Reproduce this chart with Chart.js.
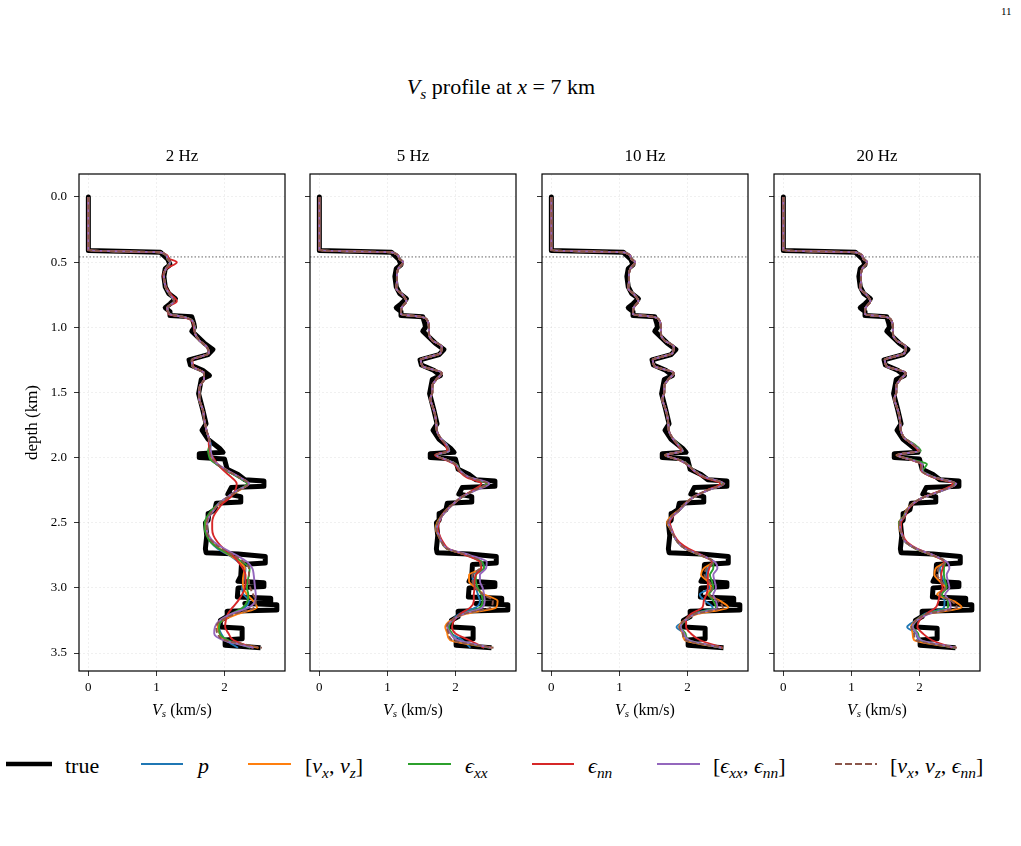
<!DOCTYPE html>
<html>
<head>
<meta charset="utf-8">
<title>Vs profile at x = 7 km</title>
<script src="https://cdn.jsdelivr.net/npm/chart.js@4.4.1/dist/chart.umd.min.js"></script>
<style>
  html, body { margin: 0; padding: 0; background: #fff; }
  #fig { position: relative; width: 1021px; height: 846px; overflow: hidden; font-family: "Liberation Serif", "DejaVu Serif", serif; color: #000; }
  #fig canvas { position: absolute; }
  .txt { position: absolute; white-space: nowrap; line-height: 1; }
  sub { font-size: 0.7em; vertical-align: -0.3em; line-height: 0; }
</style>
</head>
<body>
<div id="fig">
  <div class="txt" style="left:1001px; top:6px; font-size:11px;">11</div>
  <div class="txt" style="left:0; width:1002px; top:76px; font-size:22px; text-align:center;"><i>V</i><sub><i>s</i></sub> profile at <i>x</i> = 7 km</div>

  <svg style="position:absolute; left:0; top:754px;" width="1021" height="24">
    <line x1="6" y1="10" x2="52" y2="10" stroke="#000" stroke-width="4.5"/>
    <line x1="141" y1="10" x2="183" y2="10" stroke="#1f77b4" stroke-width="2"/>
    <line x1="248" y1="10" x2="291" y2="10" stroke="#ff7f0e" stroke-width="2"/>
    <line x1="408" y1="10" x2="451" y2="10" stroke="#2ca02c" stroke-width="2"/>
    <line x1="532" y1="10" x2="574" y2="10" stroke="#d62728" stroke-width="2"/>
    <line x1="657" y1="10" x2="700" y2="10" stroke="#9467bd" stroke-width="2"/>
    <line x1="835" y1="10" x2="877" y2="10" stroke="#8c564b" stroke-width="2" stroke-dasharray="7 3"/>
  </svg>
  <div class="txt" style="left:65px; top:755px; font-size:22px;">true</div>
  <div class="txt" style="left:198px; top:755px; font-size:22px;"><i>p</i></div>
  <div class="txt" style="left:305px; top:755px; font-size:22px;">[<i>v</i><sub><i>x</i></sub>, <i>v</i><sub><i>z</i></sub>]</div>
  <div class="txt" style="left:465px; top:755px; font-size:22px;"><i>ϵ</i><sub><i>xx</i></sub></div>
  <div class="txt" style="left:588px; top:755px; font-size:22px;"><i>ϵ</i><sub><i>nn</i></sub></div>
  <div class="txt" style="left:713px; top:755px; font-size:22px;">[<i>ϵ</i><sub><i>xx</i></sub>, <i>ϵ</i><sub><i>nn</i></sub>]</div>
  <div class="txt" style="left:890px; top:755px; font-size:22px;">[<i>v</i><sub><i>x</i></sub>, <i>v</i><sub><i>z</i></sub>, <i>ϵ</i><sub><i>nn</i></sub>]</div>
</div>

<script>
const panelTitles = ["2 Hz", "5 Hz", "10 Hz", "20 Hz"];
const seriesLabels = ["p", "[vx, vz]", "εxx", "εnn", "[εxx, εnn]", "[vx, vz, εnn]"];
const seriesColors = ["#1f77b4", "#ff7f0e", "#2ca02c", "#d62728", "#9467bd", "#8c564b"];
const xTicks = [0, 1, 2];
const yTicks = [0, 0.5, 1, 1.5, 2, 2.5, 3, 3.5];
const waterBottom = 0.46;

// true Vs model (km/s) vs depth (km)
const trueDepth = [0, 0.41, 0.425, 0.48, 0.52, 0.55, 0.61, 0.69, 0.74, 0.78, 0.82, 0.85, 0.88, 0.91, 0.92, 0.97, 1.0, 1.03, 1.07, 1.12,
  1.17, 1.21, 1.25, 1.29, 1.33, 1.37, 1.40, 1.51, 1.63, 1.74, 1.79, 1.86, 1.93, 1.96, 1.97, 2.0, 2.01, 2.09, 2.13, 2.17,
  2.18, 2.22, 2.23, 2.28, 2.30, 2.34, 2.35, 2.40, 2.43, 2.48, 2.5, 2.6, 2.7, 2.73, 2.74, 2.76, 2.81, 2.82, 2.91, 2.95,
  2.96, 2.99, 3.0, 3.07, 3.08, 3.11, 3.12, 3.13, 3.17, 3.18, 3.22, 3.25, 3.30, 3.31, 3.39, 3.40, 3.44, 3.46];
const trueVs = [0, 0, 1.06, 1.17, 1.2, 1.13, 1.11, 1.13, 1.18, 1.28, 1.2, 1.13, 1.2, 1.2, 1.52, 1.55, 1.56, 1.52, 1.6, 1.7,
  1.83, 1.76, 1.48, 1.5, 1.68, 1.78, 1.66, 1.62, 1.68, 1.73, 1.67, 1.76, 1.93, 1.98, 1.63, 1.63, 2.0, 2.04, 2.2, 2.3,
  2.58, 2.58, 2.1, 2.05, 2.24, 2.24, 1.88, 1.86, 1.77, 1.76, 1.72, 1.74, 1.72, 1.73, 2.2, 2.6, 2.6, 2.25, 2.24, 2.2,
  2.58, 2.58, 2.2, 2.19, 2.68, 2.68, 2.3, 2.77, 2.77, 2.04, 2.04, 1.94, 1.94, 2.26, 2.26, 2.01, 2.01, 2.53];

// inverted profiles: shallow part (curves overlap) and deep part per input
const upperDepth = [0, 0.41, 0.425, 0.47, 0.5, 0.55, 0.6, 0.65, 0.7, 0.75, 0.8, 0.85, 0.9, 0.92, 0.95, 1.0, 1.05, 1.1, 1.15, 1.2,
  1.25, 1.3, 1.35, 1.4, 1.45, 1.5, 1.55, 1.6, 1.65, 1.7, 1.75, 1.8, 1.85];
const lowerDepth = [1.9, 1.95, 1.98, 2.02, 2.05, 2.1, 2.15, 2.2, 2.25, 2.3, 2.35, 2.4, 2.45, 2.5, 2.55, 2.6, 2.65, 2.7, 2.75, 2.8,
  2.85, 2.9, 2.95, 3.0, 3.05, 3.1, 3.15, 3.2, 3.25, 3.3, 3.35, 3.4, 3.46];

const upper2 = [0, 0, 1.06, 1.16, 1.2, 1.14, 1.11, 1.12, 1.14, 1.2, 1.26, 1.16, 1.2, 1.4, 1.53, 1.56, 1.57, 1.63, 1.74, 1.77,
  1.52, 1.53, 1.7, 1.7, 1.64, 1.63, 1.63, 1.66, 1.69, 1.7, 1.72, 1.74, 1.77];
const upper2enn = [0, 0, 1.06, 1.18, 1.3, 1.15, 1.1, 1.12, 1.15, 1.22, 1.3, 1.16, 1.18, 1.38, 1.52, 1.55, 1.57, 1.63, 1.74, 1.77,
  1.53, 1.54, 1.7, 1.7, 1.64, 1.63, 1.63, 1.66, 1.69, 1.7, 1.72, 1.74, 1.77];
const upperHF = [0, 0, 1.07, 1.17, 1.23, 1.16, 1.14, 1.14, 1.13, 1.22, 1.28, 1.21, 1.2, 1.5, 1.59, 1.61, 1.61, 1.66, 1.8, 1.78,
  1.49, 1.52, 1.8, 1.72, 1.66, 1.66, 1.63, 1.66, 1.69, 1.71, 1.72, 1.73, 1.78];

// 2 Hz
const p2 = [1.80, 1.78, 1.79, 1.82, 1.88, 2.03, 2.20, 2.34, 2.20, 2.06, 1.93, 1.84, 1.77, 1.73, 1.73, 1.75, 1.80, 1.90, 2.07, 2.20, 2.31, 2.30, 2.28, 2.26, 2.28, 2.36, 2.30, 2.12, 1.96, 1.92, 1.95, 2.02, 2.20];
const vxvz2 = [1.79, 1.77, 1.78, 1.82, 1.89, 2.04, 2.21, 2.35, 2.22, 2.07, 1.94, 1.84, 1.77, 1.73, 1.73, 1.76, 1.82, 1.93, 2.08, 2.22, 2.30, 2.28, 2.27, 2.28, 2.33, 2.42, 2.48, 2.20, 1.97, 1.90, 1.93, 2.00, 2.50];
const exx2 = [1.78, 1.76, 1.77, 1.80, 1.88, 2.03, 2.20, 2.33, 2.20, 2.06, 1.92, 1.82, 1.75, 1.71, 1.71, 1.74, 1.80, 1.92, 2.10, 2.26, 2.37, 2.36, 2.34, 2.33, 2.35, 2.34, 2.27, 2.10, 1.96, 1.92, 1.93, 2.05, 2.38];
const enn2 = [1.77, 1.79, 1.81, 1.86, 1.90, 1.99, 2.10, 2.18, 2.16, 2.10, 1.98, 1.90, 1.84, 1.82, 1.82, 1.84, 1.90, 1.99, 2.12, 2.20, 2.27, 2.31, 2.31, 2.30, 2.26, 2.20, 2.12, 2.05, 2.02, 2.01, 2.06, 2.13, 2.42];
const exxenn2 = [1.79, 1.80, 1.81, 1.84, 1.90, 2.05, 2.22, 2.36, 2.20, 2.05, 1.92, 1.85, 1.78, 1.75, 1.74, 1.77, 1.85, 2.00, 2.18, 2.33, 2.41, 2.43, 2.44, 2.45, 2.46, 2.45, 2.36, 2.10, 1.93, 1.86, 1.85, 1.98, 2.43];
const vxvzenn2 = [1.79, 1.78, 1.79, 1.83, 1.89, 2.04, 2.21, 2.35, 2.21, 2.06, 1.93, 1.84, 1.77, 1.74, 1.74, 1.76, 1.83, 1.96, 2.14, 2.28, 2.36, 2.36, 2.36, 2.38, 2.42, 2.46, 2.44, 2.16, 1.95, 1.88, 1.90, 2.00, 2.55];

// 5 Hz
const p5 = [1.87, 1.90, 1.72, 1.88, 2.00, 2.06, 2.18, 2.45, 2.28, 2.10, 1.98, 1.88, 1.80, 1.75, 1.72, 1.76, 1.80, 1.88, 2.18, 2.38, 2.42, 2.25, 2.26, 2.30, 2.33, 2.36, 2.30, 2.06, 1.95, 1.90, 1.94, 2.10, 2.22];
const vxvz5 = [1.86, 1.90, 1.71, 1.88, 2.00, 2.06, 2.19, 2.46, 2.28, 2.10, 1.98, 1.87, 1.79, 1.73, 1.71, 1.75, 1.80, 1.88, 2.17, 2.36, 2.38, 2.20, 2.20, 2.30, 2.42, 2.62, 2.60, 2.15, 1.93, 1.85, 1.88, 1.92, 2.53];
const exx5 = [1.87, 1.91, 1.72, 1.88, 2.01, 2.07, 2.19, 2.46, 2.29, 2.11, 1.98, 1.88, 1.80, 1.74, 1.72, 1.76, 1.80, 1.88, 2.19, 2.39, 2.42, 2.30, 2.30, 2.33, 2.38, 2.40, 2.36, 2.10, 1.96, 1.90, 1.95, 2.02, 2.50];
const enn5 = [1.85, 1.88, 1.70, 1.86, 1.98, 2.05, 2.16, 2.38, 2.26, 2.10, 1.98, 1.88, 1.80, 1.76, 1.74, 1.77, 1.82, 1.90, 2.16, 2.36, 2.38, 2.30, 2.28, 2.28, 2.27, 2.27, 2.22, 2.07, 1.98, 1.95, 2.00, 2.20, 2.42];
const exxenn5 = [1.87, 1.91, 1.72, 1.88, 2.00, 2.07, 2.20, 2.50, 2.30, 2.10, 1.98, 1.88, 1.80, 1.75, 1.72, 1.76, 1.80, 1.89, 2.22, 2.46, 2.45, 2.36, 2.36, 2.40, 2.42, 2.43, 2.40, 2.12, 1.95, 1.88, 1.93, 2.03, 2.52];
const vxvzenn5 = [1.86, 1.90, 1.71, 1.88, 2.00, 2.06, 2.19, 2.47, 2.28, 2.10, 1.98, 1.87, 1.79, 1.74, 1.72, 1.75, 1.80, 1.88, 2.18, 2.37, 2.36, 2.25, 2.25, 2.30, 2.40, 2.55, 2.52, 2.12, 1.94, 1.87, 1.90, 1.95, 2.56];

// 10 Hz
const p10 = [1.86, 1.93, 1.68, 1.89, 1.99, 2.10, 2.25, 2.52, 2.30, 2.10, 1.98, 1.89, 1.78, 1.72, 1.76, 1.80, 1.86, 1.97, 2.20, 2.38, 2.30, 2.28, 2.30, 2.33, 2.18, 2.26, 2.37, 2.10, 1.98, 1.84, 1.95, 2.00, 2.50];
const vxvz10 = [1.86, 1.93, 1.67, 1.89, 1.99, 2.10, 2.25, 2.53, 2.30, 2.10, 1.97, 1.88, 1.76, 1.70, 1.75, 1.80, 1.86, 1.97, 2.19, 2.37, 2.24, 2.20, 2.30, 2.35, 2.30, 2.48, 2.60, 2.15, 1.95, 1.88, 1.93, 1.96, 2.52];
const exx10 = [1.87, 1.93, 1.68, 1.89, 2.00, 2.10, 2.25, 2.52, 2.30, 2.10, 1.98, 1.89, 1.78, 1.72, 1.76, 1.80, 1.86, 1.97, 2.20, 2.38, 2.38, 2.33, 2.36, 2.38, 2.32, 2.38, 2.42, 2.10, 1.97, 1.90, 1.97, 2.02, 2.50];
const enn10 = [1.85, 1.91, 1.70, 1.88, 1.99, 2.09, 2.23, 2.48, 2.29, 2.10, 1.98, 1.89, 1.79, 1.74, 1.77, 1.81, 1.88, 2.02, 2.22, 2.36, 2.32, 2.30, 2.30, 2.30, 2.28, 2.24, 2.22, 2.05, 1.98, 1.98, 2.05, 2.18, 2.52];
const exxenn10 = [1.86, 1.93, 1.68, 1.89, 1.99, 2.10, 2.26, 2.54, 2.31, 2.10, 1.98, 1.89, 1.78, 1.72, 1.76, 1.80, 1.86, 1.97, 2.21, 2.40, 2.44, 2.38, 2.40, 2.42, 2.38, 2.42, 2.44, 2.12, 1.96, 1.90, 1.95, 2.02, 2.50];
const vxvzenn10 = [1.86, 1.93, 1.67, 1.89, 1.99, 2.10, 2.25, 2.53, 2.30, 2.10, 1.97, 1.88, 1.77, 1.71, 1.75, 1.80, 1.86, 1.97, 2.20, 2.38, 2.28, 2.25, 2.32, 2.36, 2.33, 2.45, 2.52, 2.12, 1.96, 1.88, 1.93, 1.97, 2.52];

// 20 Hz
const p20 = [1.91, 2.00, 1.67, 1.90, 2.03, 2.03, 2.20, 2.52, 2.35, 2.08, 1.91, 1.82, 1.78, 1.71, 1.72, 1.75, 1.80, 1.95, 2.20, 2.38, 2.30, 2.32, 2.36, 2.38, 2.30, 2.37, 2.36, 2.08, 1.95, 1.82, 1.95, 2.00, 2.52];
const vxvz20 = [1.90, 1.99, 1.66, 1.90, 2.04, 2.03, 2.20, 2.53, 2.35, 2.08, 1.90, 1.81, 1.77, 1.70, 1.71, 1.75, 1.80, 1.95, 2.19, 2.37, 2.24, 2.22, 2.30, 2.38, 2.26, 2.50, 2.62, 2.12, 1.95, 1.88, 1.90, 1.92, 2.54];
const exx20 = [1.93, 2.02, 1.68, 1.92, 2.11, 2.05, 2.21, 2.52, 2.35, 2.08, 1.91, 1.82, 1.77, 1.70, 1.72, 1.75, 1.80, 1.95, 2.20, 2.38, 2.36, 2.36, 2.38, 2.40, 2.33, 2.42, 2.42, 2.10, 1.96, 1.90, 1.98, 2.02, 2.52];
const enn20 = [1.90, 1.98, 1.69, 1.89, 2.02, 2.03, 2.19, 2.49, 2.33, 2.08, 1.92, 1.83, 1.79, 1.73, 1.73, 1.76, 1.82, 1.97, 2.21, 2.36, 2.34, 2.32, 2.32, 2.34, 2.30, 2.28, 2.24, 2.10, 2.00, 1.97, 2.05, 2.18, 2.48];
const exxenn20 = [1.91, 2.00, 1.67, 1.90, 2.04, 2.04, 2.21, 2.54, 2.36, 2.08, 1.91, 1.82, 1.78, 1.71, 1.72, 1.75, 1.80, 1.96, 2.21, 2.40, 2.44, 2.40, 2.42, 2.44, 2.38, 2.44, 2.46, 2.14, 1.96, 1.90, 1.96, 2.02, 2.54];
const vxvzenn20 = [1.91, 2.00, 1.67, 1.90, 2.03, 2.03, 2.20, 2.53, 2.35, 2.08, 1.91, 1.82, 1.78, 1.71, 1.72, 1.75, 1.80, 1.95, 2.20, 2.38, 2.28, 2.26, 2.32, 2.38, 2.30, 2.47, 2.55, 2.12, 1.95, 1.88, 1.92, 1.95, 2.55];

const panelSeries = [
  { upper: [upper2, upper2, upper2, upper2enn, upper2, upper2], lower: [p2, vxvz2, exx2, enn2, exxenn2, vxvzenn2] },
  { upper: [upperHF, upperHF, upperHF, upperHF, upperHF, upperHF], lower: [p5, vxvz5, exx5, enn5, exxenn5, vxvzenn5] },
  { upper: [upperHF, upperHF, upperHF, upperHF, upperHF, upperHF], lower: [p10, vxvz10, exx10, enn10, exxenn10, vxvzenn10] },
  { upper: [upperHF, upperHF, upperHF, upperHF, upperHF, upperHF], lower: [p20, vxvz20, exx20, enn20, exxenn20, vxvzenn20] }
];

const invDepth = upperDepth.concat(lowerDepth);
const toPoints = (depths, vs) => vs.map((v, i) => ({ x: v, y: depths[i] }));

// layout of the four axes on the page
const frameLefts = [79, 310, 542, 774];
const frameW = 206;
const frameTop = 174;
const frameBottom = 671;
const canvasTop = 146;

Chart.defaults.font.family = '"Liberation Serif", "DejaVu Serif", serif';
Chart.defaults.color = "#000";

const framePlugin = {
  id: "frame",
  afterDraw(chart) {
    const { ctx, chartArea: a } = chart;
    ctx.save();
    ctx.strokeStyle = "#000";
    ctx.lineWidth = 1.2;
    ctx.strokeRect(a.left, a.top, a.right - a.left, a.bottom - a.top);
    ctx.restore();
  }
};

const waterPlugin = {
  id: "water",
  beforeDatasetsDraw(chart) {
    const { ctx, chartArea: a } = chart;
    const y = chart.scales.y.getPixelForValue(waterBottom);
    ctx.save();
    ctx.strokeStyle = "#666";
    ctx.lineWidth = 1;
    ctx.setLineDash([1.5, 2]);
    ctx.beginPath();
    ctx.moveTo(a.left, y);
    ctx.lineTo(a.right, y);
    ctx.stroke();
    ctx.restore();
  }
};

// x label with italic V and subscript s
const xTitlePlugin = {
  id: "xTitle",
  afterDraw(chart) {
    const { ctx, chartArea: a } = chart;
    const cx = (a.left + a.right) / 2;
    const y = a.bottom + 40;
    const fam = '"Liberation Serif", serif';
    ctx.save();
    ctx.fillStyle = "#000";
    ctx.textBaseline = "middle";
    ctx.textAlign = "left";
    ctx.font = "italic 16px " + fam;
    const wV = ctx.measureText("V").width;
    ctx.font = "italic 11px " + fam;
    const wS = ctx.measureText("s").width;
    ctx.font = "16px " + fam;
    const wR = ctx.measureText(" (km/s)").width;
    let x = cx - (wV + wS + wR) / 2;
    ctx.font = "italic 16px " + fam;
    ctx.fillText("V", x, y);
    x += wV;
    ctx.font = "italic 11px " + fam;
    ctx.fillText("s", x, y + 3);
    x += wS;
    ctx.font = "16px " + fam;
    ctx.fillText(" (km/s)", x, y);
    ctx.restore();
  }
};

const fig = document.getElementById("fig");

panelTitles.forEach((title, i) => {
  const padL = i === 0 ? 62 : 12;
  const padR = 10;
  const padB = 52;
  const cv = document.createElement("canvas");
  cv.width = padL + frameW + padR;
  cv.height = frameBottom + padB - canvasTop;
  cv.style.left = (frameLefts[i] - padL) + "px";
  cv.style.top = canvasTop + "px";
  fig.appendChild(cv);

  const datasets = [{
    label: "true",
    data: toPoints(trueDepth, trueVs),
    borderColor: "#000",
    borderWidth: 5,
    borderJoinStyle: "round",
    tension: 0,
    order: 10
  }];
  seriesLabels.forEach((lab, k) => {
    datasets.push({
      label: lab,
      data: toPoints(invDepth, panelSeries[i].upper[k].concat(panelSeries[i].lower[k])),
      borderColor: seriesColors[k],
      borderWidth: 1.9,
      borderDash: k === 5 ? [5, 2.5] : [],
      borderJoinStyle: "round",
      cubicInterpolationMode: "monotone",
      order: 6 - k
    });
  });

  new Chart(cv, {
    type: "line",
    data: { datasets },
    options: {
      indexAxis: "y",
      responsive: false,
      animation: false,
      events: [],
      layout: { padding: { left: 0, top: 0, bottom: 0, right: padR } },
      elements: { point: { radius: 0 } },
      plugins: {
        legend: { display: false },
        tooltip: { enabled: false },
        title: {
          display: true,
          fullSize: false,
          text: title,
          color: "#000",
          font: { size: 17, weight: "normal", lineHeight: 1.2 },
          padding: { top: 0, bottom: 7.6 }
        }
      },
      scales: {
        x: {
          type: "linear",
          min: -0.1375,
          max: 2.89,
          afterBuildTicks: s => { s.ticks = xTicks.map(v => ({ value: v })); },
          afterFit: s => { s.height = padB; },
          ticks: { font: { size: 13 }, padding: 4, color: "#000" },
          grid: { color: "rgba(0,0,0,0.08)", tickColor: "#000", tickLength: 5, lineWidth: 0.8 },
          border: { display: false, dash: [2, 2] }
        },
        y: {
          type: "linear",
          reverse: true,
          min: -0.1765,
          max: 3.638,
          afterBuildTicks: s => { s.ticks = yTicks.map(v => ({ value: v })); },
          afterFit: s => { s.width = padL; },
          ticks: { display: i === 0, font: { size: 13 }, padding: 7, color: "#000", callback: v => v.toFixed(1) },
          grid: { color: "rgba(0,0,0,0.08)", tickColor: "#000", tickLength: 5, lineWidth: 0.8 },
          border: { display: false, dash: [2, 2] },
          title: {
            display: i === 0,
            text: "depth (km)",
            color: "#000",
            font: { size: 17 },
            padding: { top: 5, bottom: 0 }
          }
        }
      }
    },
    plugins: [waterPlugin, framePlugin, xTitlePlugin]
  });
});
</script>
</body>
</html>
